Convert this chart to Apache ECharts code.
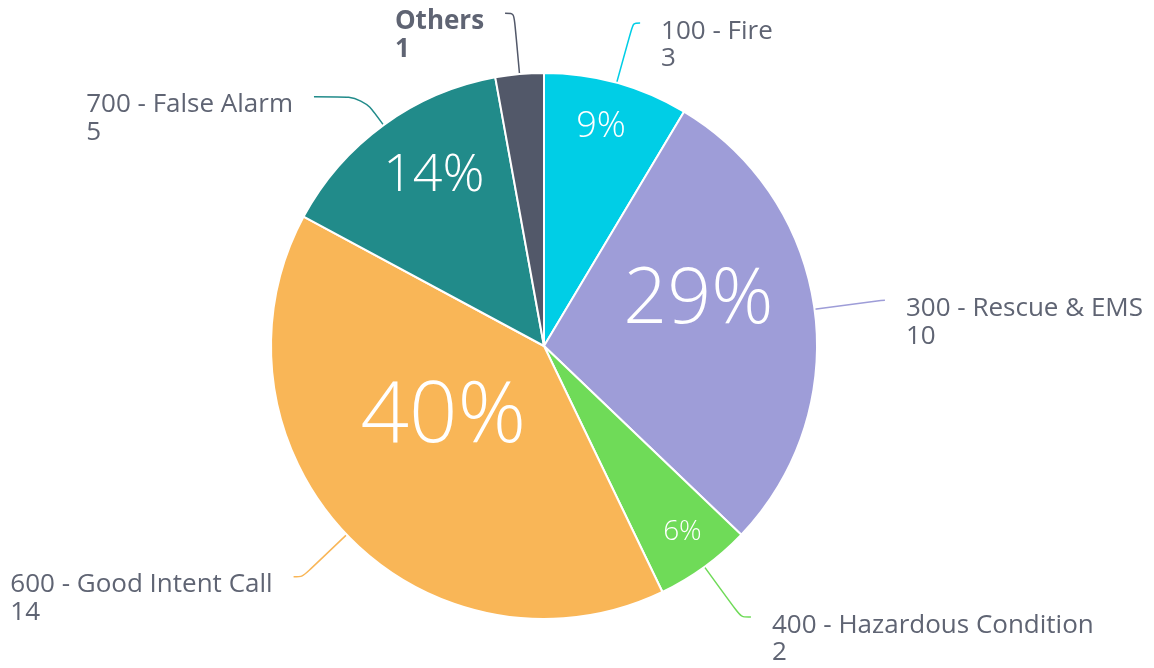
<!DOCTYPE html>
<html>
<head>
<meta charset="utf-8">
<style>
  html, body { margin: 0; padding: 0; background: #ffffff; }
  #chart { width: 1154px; height: 668px; }
</style>
<script src="https://cdn.jsdelivr.net/npm/echarts@6/dist/echarts.min.js"></script>
</head>
<body>
<div id="chart"></div>
<script>
// ---- data ----
const categories = ['100 - Fire', '300 - Rescue & EMS', '400 - Hazardous Condition', '600 - Good Intent Call', '700 - False Alarm', 'Others'];
const values = [3, 10, 2, 14, 5, 1];

// ---- styles ----
const sliceColors = ['#00CEE6', '#9E9DD8', '#6FDB58', '#F9B657', '#218B8A', '#525869'];
const innerFontSizes = [36, 77, 28, 85, 52, 0];
// inner label placement: radius (px) and angular shift (deg) relative to slice middle
const innerRadius = [229, 162, 230, 121, 205, 0];
const innerShift = [-1, -10, -1, 10, 3.5, 0];
// connector lengths per slice: [radial part, horizontal part]
const connectorLen = [[62, 7], [67, 4], [62, 10], [61, 9], [35, 49], [61, 9]];
const CENTER = [544, 346];
const RADIUS = 273;
const textColor = '#5f6473';
const FONT = '"Open Sans", sans-serif';

const total = values.reduce((a, b) => a + b, 0);

const chart = echarts.init(document.getElementById('chart'), null, { renderer: 'canvas' });

const outerData = categories.map((name, i) => ({
  name, value: values[i],
  itemStyle: { color: sliceColors[i] },
  labelLine: { length: connectorLen[i][0], length2: connectorLen[i][1] }
}));

const innerData = categories.map((name, i) => ({
  name, value: values[i],
  label: innerFontSizes[i] > 0 ? { show: true, fontSize: innerFontSizes[i] } : { show: false }
}));

chart.setOption({
  animation: false,
  backgroundColor: '#ffffff',
  series: [
    {
      type: 'pie',
      center: CENTER,
      radius: [0, RADIUS],
      startAngle: 90,
      clockwise: true,
      avoidLabelOverlap: false,
      itemStyle: { borderColor: '#ffffff', borderWidth: 2 },
      label: {
        show: true,
        position: 'outside',
        distanceToLabelLine: 21,
        padding: [44, 0, 0, 0],
        fontFamily: FONT,
        fontSize: 26,
        lineHeight: 27.5,
        color: textColor,
        formatter: p => {
          const key = p.name === 'Others' ? 'b' : 'a';
          return '{' + key + '|' + p.name + '}\n{' + key + '|' + p.value + '}';
        },
        rich: {
          a: { align: 'left', fontFamily: FONT, fontSize: 26, lineHeight: 27.5, color: textColor },
          b: { align: 'left', fontFamily: FONT, fontSize: 26, lineHeight: 27.5, color: textColor, fontWeight: 'bold' }
        }
      },
      labelLine: {
        show: true,
        smooth: 0.3,
        lineStyle: { width: 1.5 }
      },
      emphasis: { disabled: true },
      data: outerData
    },
    {
      type: 'pie',
      center: CENTER,
      radius: [0, RADIUS],
      startAngle: 90,
      clockwise: true,
      silent: true,
      avoidLabelOverlap: false,
      itemStyle: { color: 'rgba(0,0,0,0)', borderWidth: 0 },
      label: {
        show: true,
        position: 'inside',
        color: '#ffffff',
        fontFamily: FONT,
        fontWeight: 300,
        formatter: p => Math.round(p.percent) + '%'
      },
      labelLine: { show: false },
      labelLayout: params => {
        const i = params.dataIndex;
        let before = 0;
        for (let k = 0; k < i; k++) before += values[k];
        const midDeg = (before + values[i] / 2) / total * 360 + innerShift[i];
        const a = midDeg * Math.PI / 180;
        return {
          x: CENTER[0] + innerRadius[i] * Math.sin(a),
          y: CENTER[1] - innerRadius[i] * Math.cos(a) + 0.04 * innerFontSizes[i] + 1.5,
          align: 'center',
          verticalAlign: 'middle'
        };
      },
      emphasis: { disabled: true },
      data: innerData
    }
  ]
});
</script>
</body>
</html>
